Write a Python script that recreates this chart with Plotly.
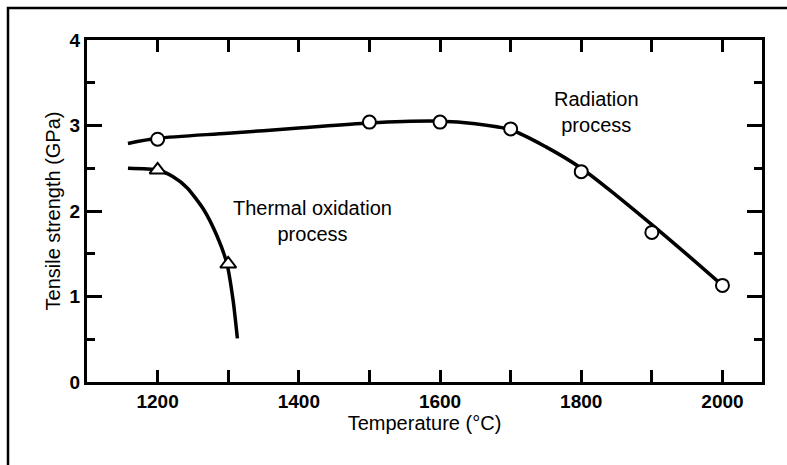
import plotly.graph_objects as go

# Radiation process: measured points and fitted curve
rad_temp = [1200, 1500, 1600, 1700, 1800, 1900, 2000]
rad_strength = [2.84, 3.04, 3.04, 2.96, 2.46, 1.75, 1.13]
rad_curve_temp = [1158, 1200, 1300, 1400, 1500, 1600, 1650, 1700, 1750, 1800, 1850, 1900, 1950, 2000]
rad_curve_strength = [2.79, 2.85, 2.91, 2.97, 3.03, 3.05, 3.02, 2.95, 2.75, 2.50, 2.18, 1.84, 1.49, 1.13]

# Thermal oxidation process: measured points and fitted curve
th_temp = [1200, 1300]
th_strength = [2.48, 1.38]
th_curve_temp = [1158, 1200, 1222, 1242, 1265, 1284, 1298, 1307, 1313]
th_curve_strength = [2.50, 2.48, 2.40, 2.27, 2.02, 1.71, 1.39, 0.95, 0.51]

x_tickvals = [1200, 1300, 1400, 1500, 1600, 1700, 1800, 1900, 2000]
x_ticktext = ["1200", "", "1400", "", "1600", "", "1800", "", "2000"]
y_tickvals = [0, 1, 2, 3, 4]
y_ticktext = ["0", "1", "2", "3", "4"]

FONT = "Liberation Sans, Arial, Helvetica, sans-serif"

fig = go.Figure()
fig.add_trace(go.Scatter(x=rad_curve_temp, y=rad_curve_strength, mode="lines",
                         line=dict(color="black", width=3.5, shape="spline", smoothing=0.8),
                         showlegend=False, hoverinfo="skip"))
fig.add_trace(go.Scatter(x=th_curve_temp, y=th_curve_strength, mode="lines",
                         line=dict(color="black", width=3.5, shape="spline", smoothing=0.6),
                         showlegend=False, hoverinfo="skip"))
fig.add_trace(go.Scatter(x=rad_temp, y=rad_strength, mode="markers", name="Radiation process",
                         marker=dict(symbol="circle", size=13, color="white",
                                     line=dict(color="black", width=2)),
                         showlegend=False))
fig.add_trace(go.Scatter(x=th_temp, y=th_strength, mode="markers", name="Thermal oxidation process",
                         marker=dict(symbol="triangle-up", size=14, color="white",
                                     line=dict(color="black", width=2)),
                         showlegend=False))

fig.add_annotation(x=1420, y=1.88, xref="x", yref="y",
                   text="Thermal oxidation<br>process", showarrow=False,
                   font=dict(family=FONT, size=20, color="black"), align="center")
fig.add_annotation(x=1822, y=3.16, xref="x", yref="y",
                   text="Radiation<br>process", showarrow=False,
                   font=dict(family=FONT, size=20, color="black"), align="center")

# outer frame of the figure (runs off the right and bottom edges)
fig.add_shape(type="rect", xref="paper", yref="paper",
              x0=(8 - 87) / 675, x1=1.5, y0=-1.0, y1=(382 - 8) / 342,
              line=dict(color="black", width=2.5), layer="below")

fig.update_layout(
    width=787, height=465,
    margin=dict(l=87, r=25, t=40, b=83),
    paper_bgcolor="white", plot_bgcolor="white",
    font=dict(family=FONT, color="black"),
    xaxis=dict(range=[1100, 2056], tickvals=x_tickvals, ticktext=x_ticktext,
               ticks="inside", ticklen=12, tickwidth=2.5, tickcolor="black",
               showline=True, linewidth=3, linecolor="black", mirror="ticks",
               showgrid=False, zeroline=False,
               tickfont=dict(family=FONT, size=19, color="black", weight="bold"),
               title=dict(text="Temperature (°C)", standoff=6,
                          font=dict(family=FONT, size=20, color="black"))),
    yaxis=dict(range=[0, 4], tickvals=y_tickvals, ticktext=y_ticktext,
               ticks="inside", ticklen=15, tickwidth=2.5, tickcolor="black",
               minor=dict(dtick=0.5, tick0=0, ticks="inside", ticklen=8, tickwidth=2.5, tickcolor="black"),
               showline=True, linewidth=3, linecolor="black", mirror="ticks",
               showgrid=False, zeroline=False,
               tickfont=dict(family=FONT, size=19, color="black", weight="bold"),
               title=dict(text="Tensile strength (GPa)", standoff=4,
                          font=dict(family=FONT, size=20, color="black"))),
)

fig.write_html("out.html", config={"displayModeBar": False},
               post_script="document.body.style.margin='0px';")
